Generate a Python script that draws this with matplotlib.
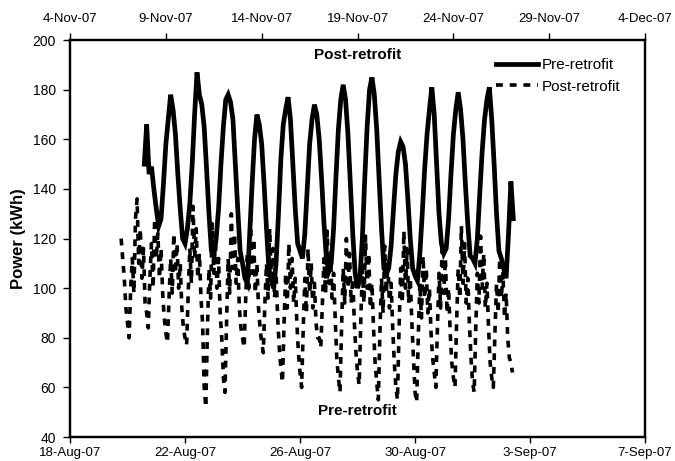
import matplotlib
matplotlib.use("Agg")
import matplotlib.pyplot as plt
import matplotlib.dates as mdates
from matplotlib.ticker import FuncFormatter
import pandas as pd

plt.rcParams['font.family'] = ['Liberation Sans', 'DejaVu Sans']

# Pre-retrofit load (bottom date axis), 2-hourly readings from 20-Aug-07 14:00
pre_start = "2007-08-20 14:00"
pre_kwh = [
    150, 166, 146, 149, 140,
    132, 125, 128, 142, 158, 168, 178, 172, 162, 146, 132, 120,
    118, 124, 134, 150, 170, 187, 178, 174, 165, 148, 130, 115,
    113, 120, 132, 150, 165, 176, 178, 175, 168, 150, 132, 115,
    110, 104, 102, 122, 142, 160, 170, 166, 158, 142, 124, 108,
    103, 100, 110, 130, 152, 166, 172, 177, 168, 150, 132, 118,
    115, 112, 122, 140, 158, 168, 174, 170, 160, 144, 126, 112,
    107, 110, 124, 145, 164, 176, 182, 176, 162, 142, 122, 106,
    100, 104, 120, 144, 165, 180, 185, 178, 164, 144, 124, 108,
    106, 108, 117, 132, 146, 155, 159, 157, 150, 136, 120, 108,
    105, 103, 114, 130, 148, 162, 172, 181, 170, 150, 130, 118,
    114, 116, 128, 146, 162, 172, 179, 172, 160, 142, 126, 113,
    112, 110, 120, 138, 155, 168, 176, 181, 168, 150, 130, 115,
    112, 108, 104, 122, 143, 128,
]

# Post-retrofit load (top date axis), 2-hourly readings from 6-Nov-07 16:00
post_start = "2007-11-06 16:00"
post_kwh = [
    120, 112, 104, 92,
    86, 80, 100, 112, 98, 128, 136, 110, 124, 104, 116, 94,
    90, 84, 104, 118, 100, 128, 112, 122, 104, 116, 98, 88,
    82, 78, 96, 112, 98, 122, 106, 118, 100, 110, 92, 84,
    80, 77, 98, 116, 102, 133, 112, 124, 104, 114, 96, 86,
    60, 52, 82, 108, 96, 126, 106, 120, 100, 112, 90, 80,
    64, 58, 86, 112, 98, 130, 108, 122, 102, 112, 92, 84,
    80, 76, 96, 114, 100, 128, 106, 120, 98, 110, 92, 84,
    78, 74, 94, 110, 96, 124, 104, 116, 96, 106, 88, 76,
    68, 62, 86, 106, 92, 118, 100, 112, 94, 104, 86, 74,
    66, 60, 84, 104, 90, 116, 98, 110, 92, 102, 86, 80,
    80, 76, 94, 112, 98, 123, 102, 116, 96, 106, 88, 72,
    64, 58, 84, 108, 94, 120, 100, 114, 94, 104, 86, 74,
    66, 61, 86, 108, 94, 121, 100, 114, 92, 102, 84, 70,
    62, 55, 82, 104, 90, 117, 98, 110, 92, 102, 84, 70,
    60, 55, 84, 108, 94, 123, 100, 116, 94, 104, 86, 72,
    58, 54, 80, 102, 88, 113, 96, 108, 90, 100, 82, 72,
    66, 60, 84, 106, 92, 118, 98, 112, 90, 100, 82, 70,
    64, 60, 86, 108, 96, 125, 102, 118, 94, 104, 86, 72,
    62, 58, 84, 106, 94, 121, 100, 114, 92, 102, 84, 70,
    64, 60, 82, 102, 90, 112, 96, 106, 88, 98, 80, 72,
    70, 66,
]

bottom_range = ("2007-08-18", "2007-09-07")
top_range = ("2007-11-04", "2007-12-04")
y_ticks = [40, 60, 80, 100, 120, 140, 160, 180, 200]

pre_t = pd.date_range(pre_start, periods=len(pre_kwh), freq="2h")
post_t = pd.date_range(post_start, periods=len(post_kwh), freq="2h")


def day_fmt(x, pos):
    d = mdates.num2date(x)
    return f"{d.day}-{d:%b-%y}"


fig = plt.figure(figsize=(6.75, 4.61), dpi=100)
ax = fig.add_axes([0.1037, 0.052, 0.852, 0.861])
ax2 = ax.twiny()

l1, = ax.plot(pre_t, pre_kwh, color="black", lw=3.4, solid_joinstyle="miter")
l2, = ax2.plot(post_t, post_kwh, color="black", lw=2.6, dashes=(1.9, 1.9))

ax.set_xlim(pd.Timestamp(bottom_range[0]), pd.Timestamp(bottom_range[1]))
ax2.set_xlim(pd.Timestamp(top_range[0]), pd.Timestamp(top_range[1]))
ax.set_ylim(40, 200)
ax.set_yticks(y_ticks)

ax.xaxis.set_major_locator(mdates.DayLocator(bymonthday=[18, 22, 26, 30, 3, 7]))
ax.xaxis.set_major_formatter(FuncFormatter(day_fmt))
ax2.xaxis.set_major_locator(mdates.DayLocator(bymonthday=[4, 9, 14, 19, 24, 29]))
ax2.xaxis.set_major_formatter(FuncFormatter(day_fmt))

for a in (ax, ax2):
    for s in a.spines.values():
        s.set_linewidth(1.6)
ax.tick_params(axis="x", direction="out", length=4, width=1, labelsize=9.5, pad=3)
ax2.tick_params(axis="x", direction="out", length=5, width=1, labelsize=9.5, pad=6)
ax.tick_params(axis="y", direction="out", length=5, width=1, labelsize=10, pad=5)

ax.set_ylabel("Power (kWh)", fontsize=12, fontweight="bold", labelpad=5)

ax.text(0.5, 0.962, "Post-retrofit", transform=ax.transAxes, ha="center", va="center",
        fontsize=11, fontweight="bold")
ax.text(0.5, 0.065, "Pre-retrofit", transform=ax.transAxes, ha="center", va="center",
        fontsize=11, fontweight="bold")

ax2.legend([l1, l2], ["Pre-retrofit", "Post-retrofit"], loc="upper left",
           bbox_to_anchor=(0.74, 0.955), frameon=False, fontsize=11,
           handlelength=2.8, handletextpad=0.2, labelspacing=0.5, borderpad=0,
           borderaxespad=0)

fig.savefig("out.png", dpi=100)
